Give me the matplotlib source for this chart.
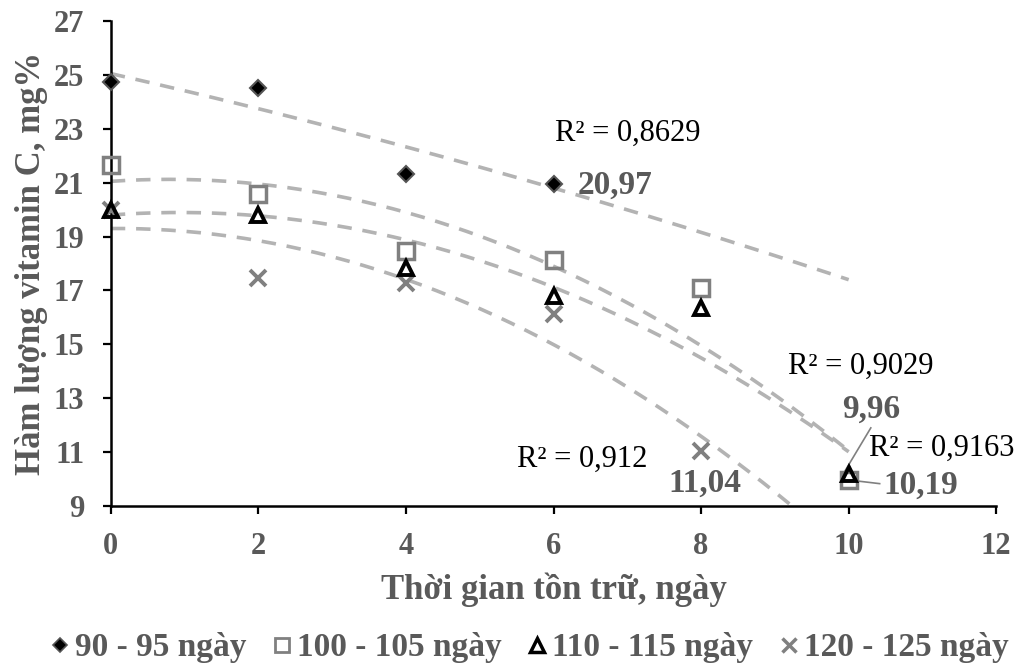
import matplotlib
matplotlib.use("Agg")
import matplotlib.pyplot as plt
import numpy as np
from matplotlib.lines import Line2D

# ---- data ----
labels = ["90 - 95 ngày", "100 - 105 ngày", "110 - 115 ngày", "120 - 125 ngày"]
x_d = [0, 2, 4, 6]
y_d = [24.72, 24.53, 21.34, 20.97]
x_s = [0, 2, 4, 6, 8, 10]
y_s = [21.67, 20.58, 18.47, 18.14, 17.10, 9.96]
x_t = [0, 2, 4, 6, 8, 10]
y_t = [20.00, 19.80, 17.84, 16.80, 16.35, 10.19]
x_c = [0, 2, 4, 6, 8]
y_c = [20.00, 17.47, 17.28, 16.13, 11.04]

# quadratic trendline coefficients (c2, c1, c0)
trend_d = [-0.0142, -0.623, 25.05]
trend_s = [-0.11875, 0.1875, 21.05]
trend_t = [-0.108, 0.2013, 19.80]
trend_c = [-0.123, 0.02, 19.30]
r2_texts = ["R² = 0,8629", "R² = 0,9029", "R² = 0,9163", "R² = 0,912"]
xticks = [0, 2, 4, 6, 8, 10, 12]
yticks = [9, 11, 13, 15, 17, 19, 21, 23, 25, 27]

plt.rcParams['font.family'] = ['Liberation Serif', 'DejaVu Serif']

fig = plt.figure(figsize=(10.26, 6.68), dpi=100)
ax = fig.add_axes([0.108, 0.2425, 0.863, 0.726])

tcol = '#595959'
xs = np.linspace(0, 10, 200)
for coef in [trend_d, trend_s, trend_t, trend_c]:
    ax.plot(xs, np.polyval(coef, xs), ls=(0, (4, 3)), color='#b3b3b3', lw=2.6, zorder=1)

ax.plot(x_d, y_d, ls='none', marker='D', ms=8, mfc='black', mec='#555555', mew=1.5,
        zorder=3, clip_on=False)
ax.plot(x_s, y_s, ls='none', marker='s', ms=12, mfc='none', mec='#808080', mew=2.5,
        zorder=3, clip_on=False)
ax.plot(x_t, y_t, ls='none', marker='^', ms=10, mfc='none', mec='black', mew=2.8,
        zorder=4, clip_on=False)
ax.plot(x_c, y_c, ls='none', marker='x', ms=11, mec='#808080', mew=2.8,
        zorder=3, clip_on=False)

ax.set_xlim(0, 12)
ax.set_ylim(9, 27)
ax.set_xticks(xticks)
ax.set_yticks(yticks)
ax.tick_params(axis='both', direction='out', length=6, width=1.6, labelsize=22,
               labelcolor=tcol)
ax.tick_params(axis='y', pad=13)
ax.tick_params(axis='x', pad=13)
for lab in ax.get_xticklabels() + ax.get_yticklabels():
    lab.set_fontweight('bold')
for s in ['top', 'right']:
    ax.spines[s].set_visible(False)
for s in ['left', 'bottom']:
    ax.spines[s].set_linewidth(1.8)

ax.set_ylabel("Hàm lượng vitamin C, mg%", fontsize=25, fontweight='bold', color=tcol, labelpad=4)
ax.set_xlabel("Thời gian tồn trữ, ngày", fontsize=25, fontweight='bold', color=tcol, labelpad=8)

# annotations
rfs = 22
bfs = 24
ax.text(6.02, 22.83, r2_texts[0], fontsize=rfs, color='black', va='center', ha='left')
ax.text(6.32, 20.89, "20,97", fontsize=bfs, fontweight='bold', color=tcol, va='center', ha='left')
ax.text(9.18, 14.19, r2_texts[1], fontsize=rfs, color='black', va='center', ha='left')
ax.text(9.91, 12.59, "9,96", fontsize=bfs, fontweight='bold', color=tcol, va='center', ha='left')
ax.text(10.28, 11.13, r2_texts[2], fontsize=rfs, color='black', va='center', ha='left')
ax.text(10.47, 9.76, "10,19", fontsize=bfs, fontweight='bold', color=tcol, va='center', ha='left')
ax.text(5.5, 10.72, r2_texts[3], fontsize=rfs, color='black', va='center', ha='left')
ax.text(7.55, 9.83, "11,04", fontsize=bfs, fontweight='bold', color=tcol, va='center', ha='left')
ax.plot([10.3, 9.95], [11.9, 10.3], color='#808080', lw=1.2, zorder=2)
ax.plot([10.05, 10.42], [9.95, 9.83], color='#808080', lw=1.2, zorder=2)

handles = [
    Line2D([], [], ls='none', marker='D', ms=7, mfc='black', mec='#555555', mew=1.2),
    Line2D([], [], ls='none', marker='s', ms=10, mfc='none', mec='#808080', mew=2),
    Line2D([], [], ls='none', marker='^', ms=10, mfc='none', mec='black', mew=2.5),
    Line2D([], [], ls='none', marker='x', ms=10, mec='#808080', mew=2.5),
]
leg = fig.legend(handles, labels, loc='center', bbox_to_anchor=(0.515, 0.03), ncol=4,
                 frameon=False, handletextpad=0.1, columnspacing=0.72, handlelength=0.7,
                 prop={'size': 24, 'weight': 'bold'})
for t in leg.get_texts():
    t.set_color(tcol)

fig.savefig("out.png", dpi=100)
